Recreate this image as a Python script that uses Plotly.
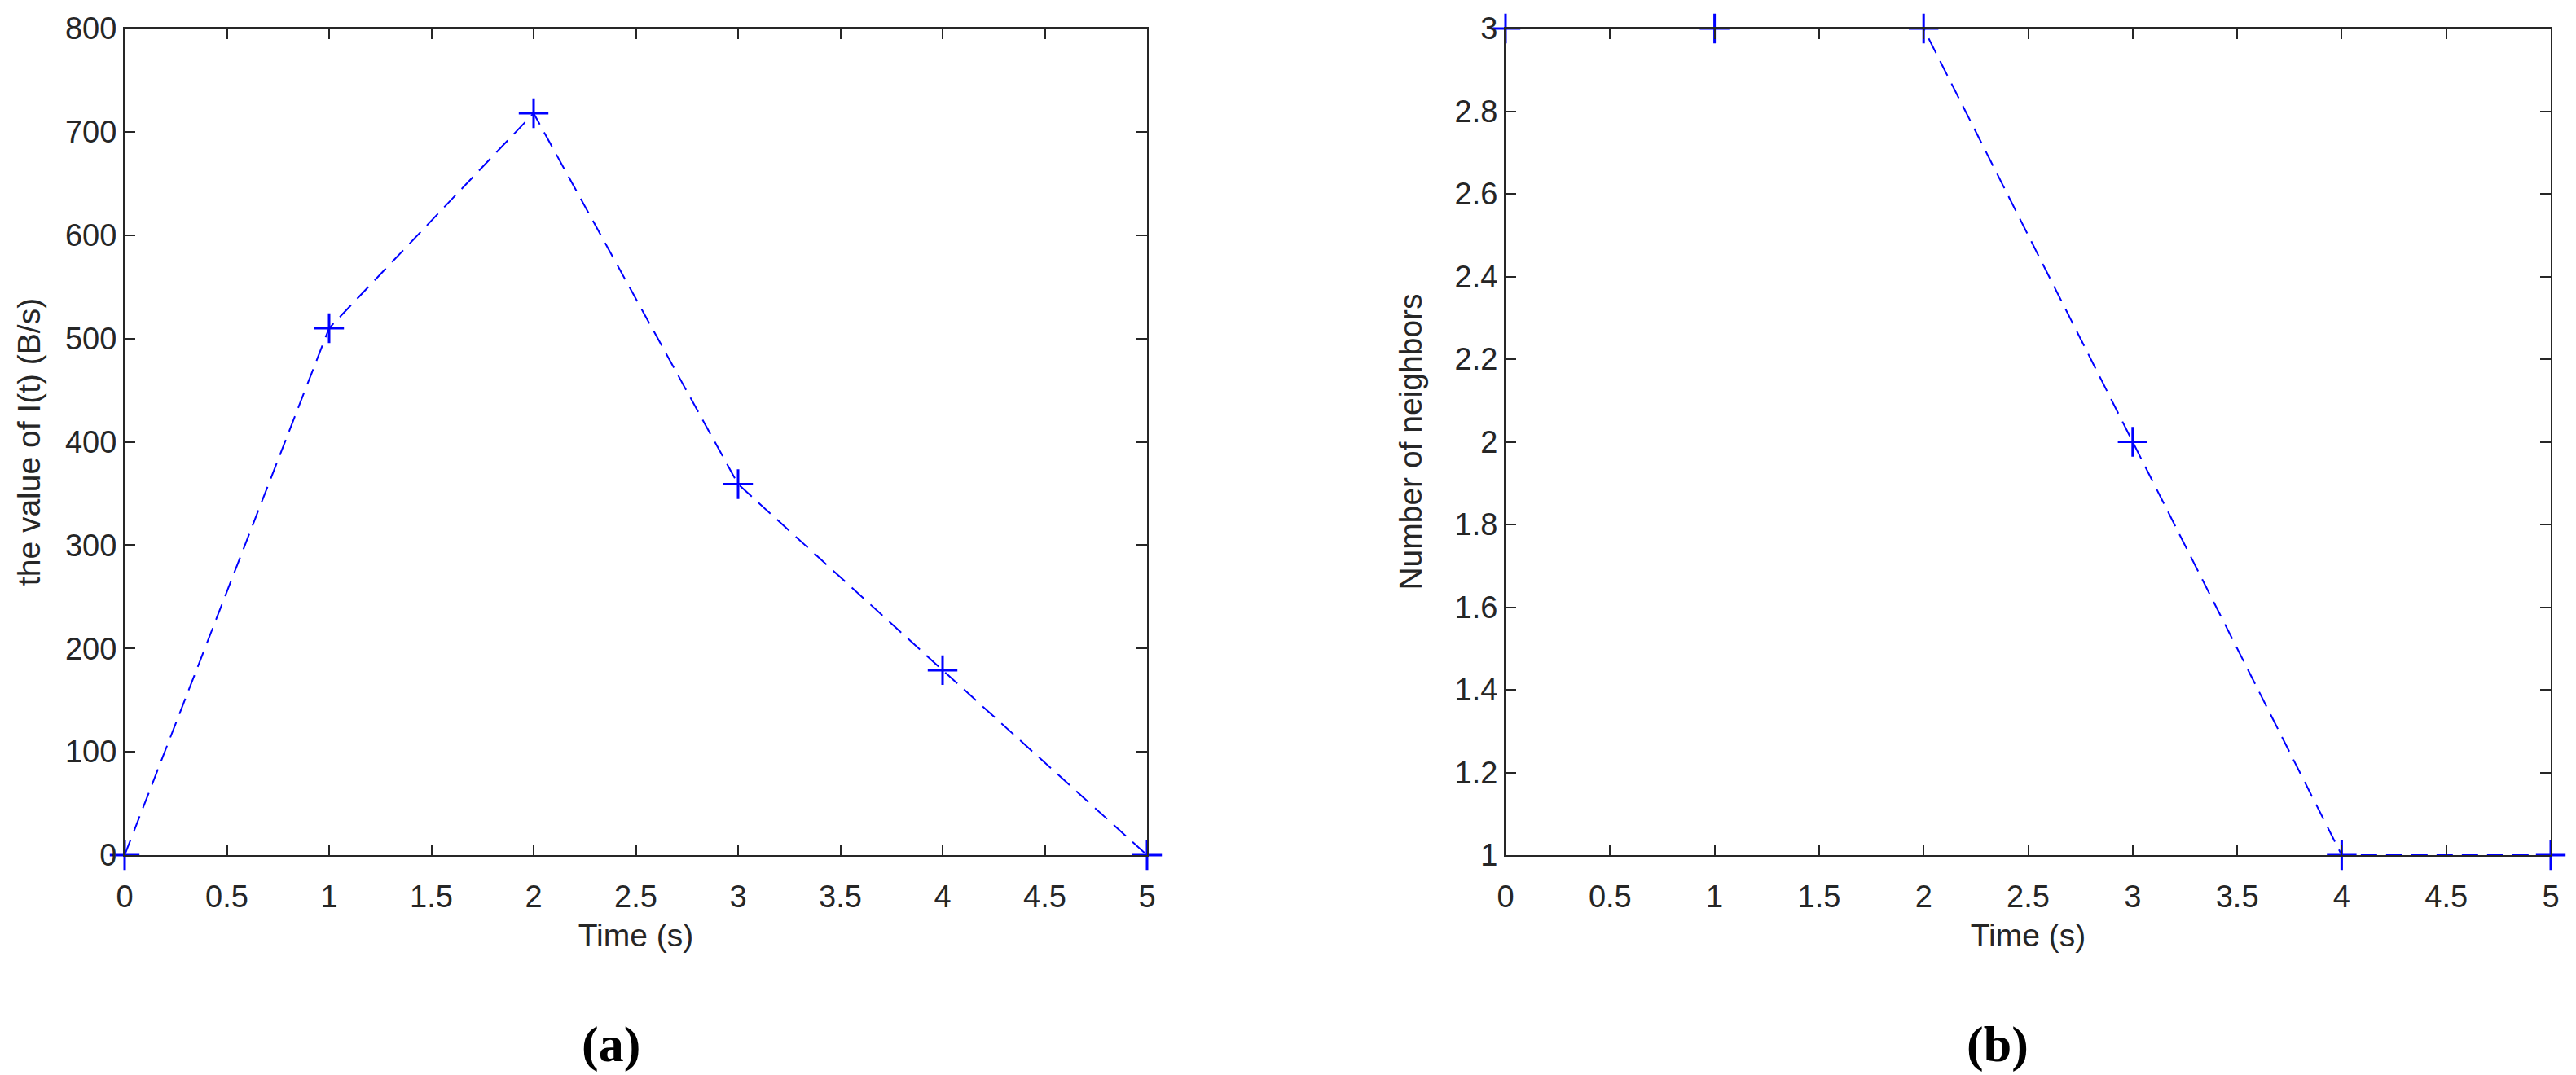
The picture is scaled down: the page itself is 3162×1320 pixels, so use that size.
import plotly.graph_objects as go
from plotly.subplots import make_subplots

# ------------------ dati ------------------
tempo = [0, 1, 2, 3, 4, 5]
valore_I = [0, 510, 718, 359, 179, 0]
vicini = [3, 3, 3, 2, 1, 1]

x_ticks = [0, 0.5, 1, 1.5, 2, 2.5, 3, 3.5, 4, 4.5, 5]
x_labels = ["0", "0.5", "1", "1.5", "2", "2.5", "3", "3.5", "4", "4.5", "5"]
y1_ticks = [0, 100, 200, 300, 400, 500, 600, 700, 800]
y1_labels = [str(v) for v in y1_ticks]
y2_ticks = [1, 1.2, 1.4, 1.6, 1.8, 2, 2.2, 2.4, 2.6, 2.8, 3]
y2_labels = ["1", "1.2", "1.4", "1.6", "1.8", "2", "2.2", "2.4", "2.6", "2.8", "3"]

BLU = "#0000ff"
GRIGIO = "#262626"
FONT = "Liberation Sans"
W, H = 3162, 1320

fig = make_subplots(rows=1, cols=2)

for col, y in [(1, valore_I), (2, vicini)]:
    fig.add_trace(go.Scatter(
        x=tempo,
        y=y,
        mode="lines+markers",
        line=dict(color=BLU, width=2, dash="20px,11px"),
        marker=dict(symbol="cross-thin", size=26, color=BLU,
                    line=dict(color=BLU, width=3)),
        cliponaxis=False,
        showlegend=False
    ), row=1, col=col)

asse = dict(
    showline=True, linecolor=GRIGIO, linewidth=2, mirror="ticks",
    ticks="inside", ticklen=13, tickwidth=2, tickcolor=GRIGIO,
    showgrid=False, zeroline=False, automargin=False,
    tickfont=dict(family=FONT, size=38, color=GRIGIO),
)
titolo_font = dict(family=FONT, size=39, color=GRIGIO)

fig.update_xaxes(**asse, range=[0, 5], tickvals=x_ticks, ticktext=x_labels,
                 ticklabelstandoff=16,
                 title=dict(text="Time (s)", font=titolo_font, standoff=14))
fig.update_xaxes(domain=[145 / W, 1400 / W], row=1, col=1)
fig.update_xaxes(domain=[1840 / W, 3123 / W], row=1, col=2)

fig.update_yaxes(**asse)
fig.update_yaxes(domain=[1 - 1042 / H, 1 - 27 / H])
fig.update_yaxes(range=[0, 800], tickvals=y1_ticks, ticktext=y1_labels,
                 title=dict(text="the value of I(t) (B/s)", font=titolo_font, standoff=18),
                 row=1, col=1)
fig.update_yaxes(range=[1, 3], tickvals=y2_ticks, ticktext=y2_labels,
                 title=dict(text="Number of neighbors", font=titolo_font, standoff=28),
                 row=1, col=2)

for testo, xpos in [("(a)", 742 / W), ("(b)", 2444 / W)]:
    fig.add_annotation(
        text="<b>" + testo + "</b>", x=xpos, y=1 - 1274 / H,
        xref="paper", yref="paper", showarrow=False,
        xanchor="center", yanchor="middle",
        font=dict(family="Liberation Serif", size=62, color="black")
    )

fig.update_layout(
    width=W, height=H,
    margin=dict(l=0, r=0, t=0, b=0),
    paper_bgcolor="white", plot_bgcolor="white"
)

fig.write_html("out.html")
